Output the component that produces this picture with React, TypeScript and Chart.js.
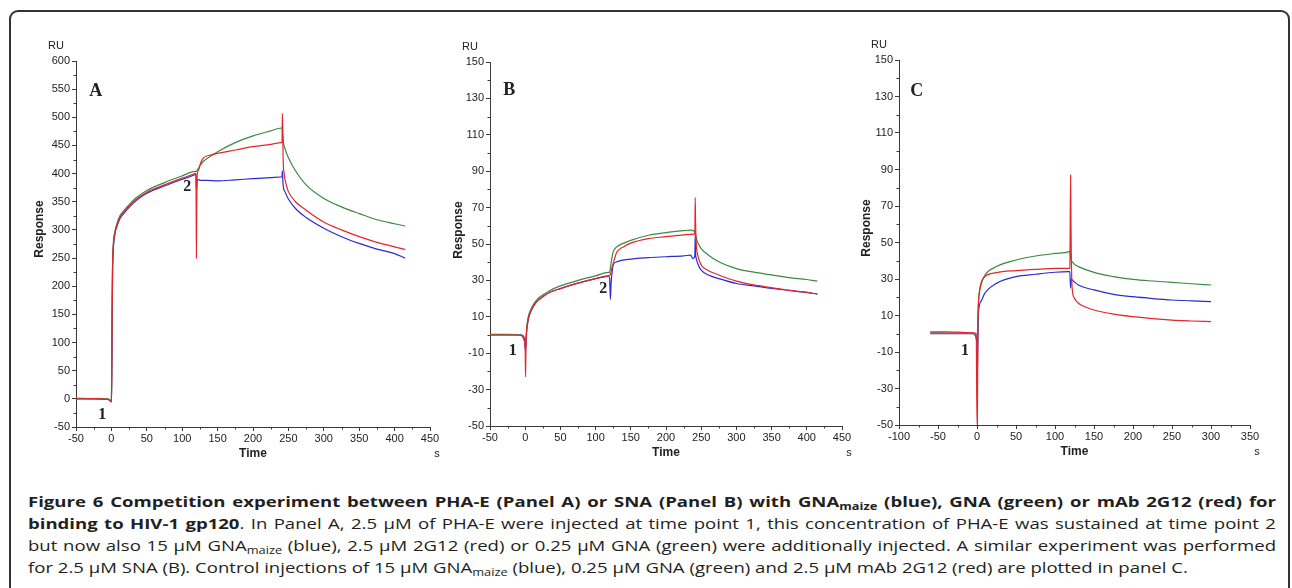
import React, { useEffect, useRef } from 'react';
import { Chart, registerables } from 'chart.js';

Chart.register(...registerables);

type Pt = [number, number];

// ---------- Panel A (PHA-E) ----------
const A_RED: Pt[] = [[-50,0],[-25,0.5],[-5,-1],[-1,-3],[0,-6],[0.5,40],[1,150],[2,250],[3,277],[5,295],[8,309],[12,322],[18,332],[25,342],[35,354],[50,367],[75,380],[100,392],[118,400],[119.5,401],[120,250],[120.5,330],[121,395],[123,406],[126,419],[130,428],[140,433],[150,436],[175,442],[200,448],[225,452],[240,455],[241,455],[241.5,507],[242,480],[242.5,430],[244,400],[247,380],[250,368],[260,350],[275,335],[300,314],[325,300],[350,288],[375,278],[400,270],[415,265]];
const A_GREEN: Pt[] = [[-50,1],[-25,0.5],[-5,0],[0,-4],[0.5,80],[1,180],[2,255],[3,281],[5,298],[8,312],[12,325],[18,335],[25,345],[35,357],[50,370],[75,384],[100,396],[118,404],[120,404],[122,408],[125,414],[130,422],[140,431],[150,439],[175,455],[200,467],[225,476],[240,481],[241,481],[242,470],[243,455],[245,445],[250,428],[260,405],[275,380],[300,356],[325,341],[350,329],[375,318],[400,311],[415,307]];
const A_BLUE: Pt[] = [[-50,0],[-25,0],[-5,-1],[0,-5],[0.5,35],[1,90],[1.5,220],[2,245],[3,272],[5,293],[8,307],[12,320],[18,330],[25,340],[35,352],[50,365],[75,378],[100,390],[118,398],[119.5,399],[120,370],[121,385],[122,390],[125,388],[135,388],[150,387],[175,389],[200,391],[225,393],[240,394],[241,394],[241.5,405],[242,390],[243,375],[245,368],[250,355],[260,338],[275,322],[300,303],[325,288],[350,276],[375,266],[400,258],[415,250]];

// ---------- Panel B (SNA) ----------
const B_RED: Pt[] = [[-50,0],[-30,0],[-10,0],[-3,-1],[-1,-3],[0,-8],[0.5,-23],[1,-10],[2,2],[3,6],[5,10],[8,13],[12,16],[18,19],[25,21],[35,23.5],[50,25.5],[75,28.5],[100,31],[118,32.5],[120,33],[121,33],[122,35],[124,38],[127,42],[130,45.5],[140,48.5],[150,50.5],[175,53],[200,54],[225,55],[240,55.4],[241,55.4],[241.5,75.5],[242,62],[243,50],[245,44],[250,38.5],[260,35.5],[275,33],[300,29.6],[325,27.5],[350,26],[375,24.5],[400,23.4],[415,22.5]];
const B_GREEN: Pt[] = [[-50,0.3],[-25,0.3],[-5,0],[0,-4],[1,-2],[2,3],[3,7],[5,11],[8,14],[12,17],[18,20],[25,22],[35,24.5],[50,27],[75,30],[100,32.5],[118,34.4],[120,34.5],[121,37],[123,42],[125,45.7],[130,48.4],[140,50.5],[150,52],[175,54.8],[200,56.3],[225,57.3],[235,57.6],[240,57],[242,55],[244,52],[246,50],[250,47.5],[260,44],[275,40.2],[300,36.5],[325,34.5],[350,33],[375,31.5],[400,30.5],[415,29.6]];
const B_BLUE: Pt[] = [[-50,0],[-25,0],[-5,0],[-1,-2],[0,-8],[1,-6],[2,2],[3,5],[5,9.5],[8,13],[12,16],[18,19],[25,21],[35,23.5],[50,25.5],[75,28.5],[100,31],[118,32.5],[120,31],[121,19.5],[122,28],[123,33],[125,38.4],[130,40.2],[150,41.7],[175,42.5],[200,43],[225,43.5],[235,43.9],[238,42],[240,42.4],[241,44],[241.5,55],[242,45],[243,42],[245,39.3],[250,35.6],[260,33],[275,31],[300,28.3],[325,27],[350,25.6],[375,24.5],[400,23.4],[415,22.5]];

// ---------- Panel C (controls) ----------
const C_RED: Pt[] = [[-60,1],[-40,1],[-20,0.8],[-5,0.5],[-1,0],[0,-50],[0.5,-50],[1,0],[2,17.6],[3,22],[5,27.6],[10,31.3],[25,33.5],[50,34.6],[75,35.3],[100,35.8],[118,35.8],[119,36],[120,87],[120.5,60],[121,40],[122,25],[125,19.4],[130,16.7],[140,14.5],[150,13],[175,10.8],[200,9.4],[225,8.3],[250,7.5],[275,7],[300,6.6]];
const C_GREEN: Pt[] = [[-60,0.5],[-30,0.4],[-5,0.3],[0,-2],[1,5],[2,18.5],[3,23],[5,26.7],[10,32],[25,36.8],[50,40.4],[75,42.6],[100,44],[118,45],[119,45.3],[120,42],[121,40],[122,39.5],[125,38],[130,36.8],[150,33.6],[175,31.3],[200,29.8],[225,28.9],[250,28.2],[275,27.4],[300,26.7]];
const C_BLUE: Pt[] = [[-60,0],[-30,0],[-5,0],[0,-5],[0.5,-22.6],[1,-8],[2,12],[5,17.6],[10,22.1],[25,27.6],[50,31.3],[75,32.6],[100,33.7],[118,34],[119,34],[120,25],[121,30],[122,29.5],[130,26.7],[150,24],[175,21.6],[200,20.3],[225,19.3],[250,18.5],[275,18],[300,17.6]];

const COLOR_RED = '#e4262b';
const COLOR_GREEN = '#3b8a3e';
const COLOR_BLUE = '#2b2bd3';

const AXIS_COLOR = '#3a3a3a';
const TEXT_COLOR = '#222222';
const SANS = '"Liberation Sans", Arial, sans-serif';
const SERIF = '"Liberation Serif", "Times New Roman", serif';

const panelTextPlugin = {
  id: 'panelText',
  afterDraw(chart: any, _args: any, opts: any) {
    const { ctx, chartArea: ca, scales } = chart;
    const xs = scales.x;
    const ys = scales.y;
    ctx.save();
    // short minor tick marks
    ctx.strokeStyle = AXIS_COLOR;
    ctx.lineWidth = 1;
    ctx.beginPath();
    for (const t of xs.ticks) {
      if (!opts.xMajor(t.value)) {
        const px = Math.round(xs.getPixelForValue(t.value)) + 0.5;
        ctx.moveTo(px, ca.bottom);
        ctx.lineTo(px, ca.bottom + 2.5);
      }
    }
    for (const t of ys.ticks) {
      if (!opts.yMajor(t.value)) {
        const py = Math.round(ys.getPixelForValue(t.value)) + 0.5;
        ctx.moveTo(ca.left, py);
        ctx.lineTo(ca.left - 2.5, py);
      }
    }
    ctx.stroke();

    ctx.fillStyle = TEXT_COLOR;
    ctx.textAlign = 'center';
    ctx.textBaseline = 'middle';
    ctx.font = `11px ${SANS}`;
    ctx.fillText('RU', ca.left - 20, ca.top - 15);
    ctx.fillText('s', ca.right + 7, ca.bottom + 27);
    ctx.font = `bold 12px ${SANS}`;
    ctx.fillText('Time', (ca.left + ca.right) / 2, ca.bottom + 27);
    ctx.save();
    ctx.translate(ca.left - opts.respDx, ca.top + 168);
    ctx.rotate(-Math.PI / 2);
    ctx.fillText('Response', 0, 0);
    ctx.restore();
    for (const m of opts.marks) {
      ctx.font = `bold ${m.size}px ${SERIF}`;
      ctx.fillText(m.text, xs.getPixelForValue(m.t), ys.getPixelForValue(m.v));
    }
    ctx.restore();
  },
};

type PanelDef = {
  red: Pt[]; green: Pt[]; blue: Pt[];
  xMin: number; xMax: number; yMin: number; yMax: number;
  yStep: number; yLabel: (v: number) => boolean;
  left: number; top: number; width: number; height: number;
  padTop: number; xH: number; respDx: number;
  marks: { text: string; t: number; v: number; size: number }[];
};

const xLabel = (v: number) => v % 50 === 0;

const PANELS: PanelDef[] = [
  {
    red: A_RED, green: A_GREEN, blue: A_BLUE,
    xMin: -50, xMax: 450, yMin: -50, yMax: 600,
    yStep: 25, yLabel: (v) => v % 50 === 0,
    left: 20, top: 25, width: 425, height: 445, padTop: 36, xH: 43, respDx: 36,
    marks: [
      { text: 'A', t: -22, v: 546, size: 18 },
      { text: '1', t: -13, v: -29, size: 16 },
      { text: '2', t: 107, v: 377, size: 16 },
    ],
  },
  {
    red: B_RED, green: B_GREEN, blue: B_BLUE,
    xMin: -50, xMax: 450, yMin: -50, yMax: 150,
    yStep: 10, yLabel: (v) => (v + 50) % 20 === 0,
    left: 434, top: 25, width: 423, height: 445, padTop: 37, xH: 44, respDx: 31,
    marks: [
      { text: 'B', t: -22.6, v: 134.4, size: 18 },
      { text: '1', t: -17.8, v: -8.8, size: 16 },
      { text: '2', t: 110.8, v: 25.6, size: 16 },
    ],
  },
  {
    red: C_RED, green: C_GREEN, blue: C_BLUE,
    xMin: -100, xMax: 350, yMin: -50, yMax: 150,
    yStep: 10, yLabel: (v) => (v + 50) % 20 === 0,
    left: 843, top: 25, width: 422, height: 445, padTop: 35, xH: 45, respDx: 32,
    marks: [
      { text: 'C', t: -77.4, v: 133, size: 18 },
      { text: '1', t: -15.4, v: -9.5, size: 16 },
    ],
  },
];

function Panel({ p }: { p: PanelDef }) {
  const ref = useRef<HTMLCanvasElement>(null);
  useEffect(() => {
    if (!ref.current) return;
    const line = (data: Pt[], color: string) => ({
      data,
      borderColor: color,
      backgroundColor: color,
      borderWidth: 1.2,
      pointRadius: 0,
      cubicInterpolationMode: 'monotone' as const,
      fill: false,
    });
    const tickFont = { family: SANS, size: 11 };
    const chart = new Chart(ref.current, {
      type: 'line',
      data: {
        datasets: [
          line(p.red, COLOR_RED),
          line(p.green, COLOR_GREEN),
          line(p.blue, COLOR_BLUE),
        ],
      },
      options: {
        responsive: false,
        animation: false,
        devicePixelRatio: 1,
        layout: { padding: { top: p.padTop, right: 15, left: 0, bottom: 0 } },
        plugins: {
          legend: { display: false },
          tooltip: { enabled: false },
          panelText: { marks: p.marks, respDx: p.respDx, xMajor: xLabel, yMajor: p.yLabel },
        } as any,
        scales: {
          x: {
            type: 'linear',
            min: p.xMin,
            max: p.xMax,
            afterFit: (s: any) => { s.height = p.xH; },
            ticks: {
              stepSize: 25,
              autoSkip: false,
              maxRotation: 0,
              padding: 1,
              color: TEXT_COLOR,
              font: tickFont,
              callback: (v: any) => (xLabel(Number(v)) ? String(v) : ''),
            },
            grid: {
              drawOnChartArea: false,
              tickLength: 4,
              color: AXIS_COLOR,
              tickColor: (c: any) => (c.tick && xLabel(c.tick.value) ? AXIS_COLOR : 'rgba(0,0,0,0)'),
            },
            border: { color: AXIS_COLOR, width: 1 },
          },
          y: {
            type: 'linear',
            min: p.yMin,
            max: p.yMax,
            afterFit: (s: any) => { s.width = 56; },
            ticks: {
              stepSize: p.yStep,
              autoSkip: false,
              padding: 2,
              color: TEXT_COLOR,
              font: tickFont,
              callback: (v: any) => (p.yLabel(Number(v)) ? String(v) : ''),
            },
            grid: {
              drawOnChartArea: false,
              tickLength: 4,
              color: AXIS_COLOR,
              tickColor: (c: any) => (c.tick && p.yLabel(c.tick.value) ? AXIS_COLOR : 'rgba(0,0,0,0)'),
            },
            border: { color: AXIS_COLOR, width: 1 },
          },
        },
      },
      plugins: [panelTextPlugin],
    });
    return () => chart.destroy();
  }, [p]);
  return (
    <canvas
      ref={ref}
      width={p.width}
      height={p.height}
      style={{ position: 'absolute', left: p.left, top: p.top, width: p.width, height: p.height }}
    />
  );
}

const CAPTION_SCALE = 1.28;
const CAPTION_WIDTH = 1248;

const subStyle: React.CSSProperties = { fontSize: '10px', verticalAlign: '-3px', lineHeight: 0 };
const lineJust: React.CSSProperties = {
  textAlign: 'justify', textAlignLast: 'justify' as any, whiteSpace: 'nowrap',
  height: 22, lineHeight: '22px',
};

export default function App() {
  return (
    <div
      style={{
        position: 'absolute', left: 0, top: 0, width: 1292, height: 588,
        overflow: 'hidden', background: '#ffffff',
      }}
    >
      <div
        style={{
          position: 'absolute', left: 9, top: 10, width: 1281, height: 640,
          border: '2px solid #333', borderRadius: 9, boxSizing: 'border-box',
        }}
      />
      {PANELS.map((p, i) => <Panel key={i} p={p} />)}
      <div
        style={{
          position: 'absolute', left: 28, top: 491, width: CAPTION_WIDTH / CAPTION_SCALE,
          transform: `scaleX(${CAPTION_SCALE})`, transformOrigin: '0 0',
          fontFamily: '"Open Sans", "Noto Sans", sans-serif', fontSize: '14.5px', color: '#231f20',
        }}
      >
        <div style={{ ...lineJust, fontWeight: 'bold' }}>
          Figure 6 Competition experiment between PHA-E (Panel A) or SNA (Panel B) with GNA<sub style={subStyle}>maize</sub> (blue), GNA (green) or mAb 2G12 (red) for
        </div>
        <div style={lineJust}>
          <b>binding to HIV-1 gp120</b>. In Panel A, 2.5 μM of PHA-E were injected at time point 1, this concentration of PHA-E was sustained at time point 2
        </div>
        <div style={lineJust}>
          but now also 15 μM GNA<sub style={subStyle}>maize</sub> (blue), 2.5 μM 2G12 (red) or 0.25 μM GNA (green) were additionally injected. A similar experiment was performed
        </div>
        <div style={{ height: 22, lineHeight: '22px', whiteSpace: 'nowrap' }}>
          for 2.5 μM SNA (B). Control injections of 15 μM GNA<sub style={subStyle}>maize</sub> (blue), 0.25 μM GNA (green) and 2.5 μM mAb 2G12 (red) are plotted in panel C.
        </div>
      </div>
    </div>
  );
}
